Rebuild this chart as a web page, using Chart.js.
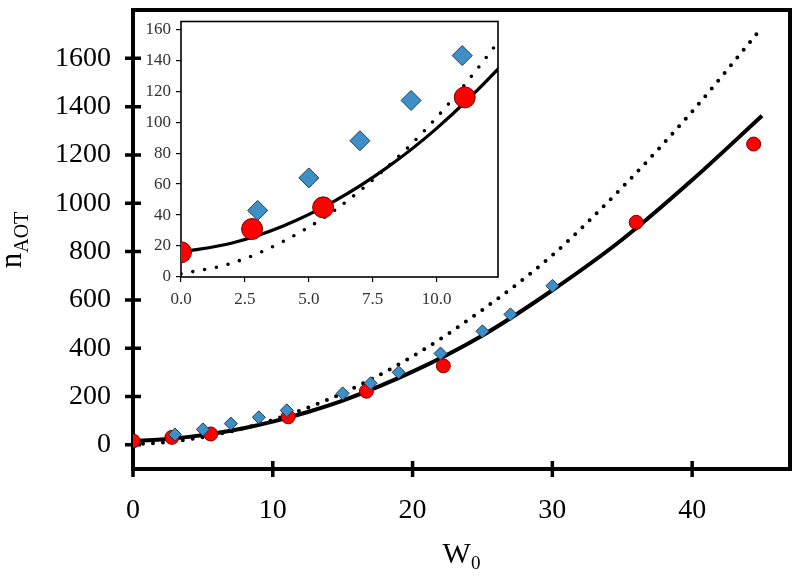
<!DOCTYPE html>
<html>
<head>
<meta charset="utf-8">
<script src="https://cdn.jsdelivr.net/npm/chart.js@4.4.1/dist/chart.umd.min.js"></script>
<style>
  body { margin: 0; background: #fff; }
  #wrap { position: relative; width: 800px; height: 583px; }
  #mainChart { position: absolute; left: 0; top: 0; }
  #insetChart { position: absolute; left: 130px; top: 10px; }
</style>
</head>
<body>
<div id="wrap">
  <canvas id="mainChart" width="800" height="583" style="width:800px;height:583px"></canvas>
  <canvas id="insetChart" width="380" height="305" style="width:380px;height:305px"></canvas>
</div>
<script>
// data
const redX = [0, 2.78, 5.56, 11.1, 16.7, 22.2, 36, 44.4];
const redY = [16, 31, 45, 116, 222, 327, 921, 1245];
const blueX = [3, 5, 7, 9, 11, 15, 17, 19, 22, 25, 27, 30];
const blueY = [43, 64, 88, 114, 143, 213, 255, 300, 378, 470, 540, 658];
const solidX = [0, 2, 4, 6, 8, 10, 12.5, 15, 20, 25, 30, 35, 40, 45];
const solidY = [16, 22, 33, 49, 70, 96, 136, 183, 303, 453, 640, 850, 1096, 1362];
const dotX = [0, 2, 4, 6, 8, 10, 12.5, 15, 20, 25, 30, 35, 40, 44.6];
const dotY = [2, 9, 23, 43, 70, 103, 154, 214, 366, 559, 785, 1066, 1380, 1700];

const mainXTicks = [0, 10, 20, 30, 40];
const mainYTicks = [0, 200, 400, 600, 800, 1000, 1200, 1400, 1600];
const insetXTicks = [0, 2.5, 5, 7.5, 10];
const insetYTicks = [0, 20, 40, 60, 80, 100, 120, 140, 160];

const SERIF = '"Liberation Serif", "Times New Roman", serif';

function pts(xs, ys, maxX) {
    const out = [];
    xs.forEach((x, i) => {
        if (maxX === undefined || x <= maxX) out.push({ x: x, y: ys[i] });
    });
    return out;
}

function makeDatasets(big) {
    return [
        {
            label: "blue",
            data: pts(blueX, blueY, big ? undefined : 12.4),
            showLine: false,
            pointStyle: "rectRot",
            pointRadius: big ? 6.5 : 10,
            backgroundColor: "#3d8fc6",
            borderColor: "#1d3c58",
            borderWidth: 1
        },
        {
            label: "red",
            data: pts(redX, redY, big ? undefined : 12.4),
            showLine: false,
            pointStyle: "circle",
            pointRadius: big ? 7 : 10.5,
            backgroundColor: "#ff0000",
            borderColor: "#7a0000",
            borderWidth: 1
        },
        {
            label: "fit",
            data: pts(solidX, solidY),
            showLine: true,
            pointRadius: 0,
            borderColor: "#000",
            borderWidth: big ? 4 : 3.2,
            cubicInterpolationMode: "monotone",
            fill: false
        },
        {
            label: "model",
            data: pts(dotX, dotY),
            showLine: true,
            pointRadius: 0,
            borderColor: "#000",
            borderWidth: big ? 4 : 3.6,
            borderDash: big ? [0, 10] : [0, 12],
            borderCapStyle: "round",
            cubicInterpolationMode: "monotone",
            fill: false
        }
    ];
}

// fixed axis sizes, no extra room for end labels
function fixSize(w, h) {
    return s => {
        if (w !== undefined) s.width = w
        if (h !== undefined) s.height = h
        s.paddingTop = 0
        s.paddingBottom = 0
        s.paddingLeft = 0
        s.paddingRight = 0
    }
}

// box round the plot area and cross tick marks
const frame = {
    id: 'frame',
    beforeDatasetsDraw(chart, args, opts) {
        const { ctx, chartArea: { left, right, top, bottom }, scales: { x, y } } = chart
        ctx.save()
        ctx.strokeStyle = '#000'
        ctx.lineWidth = opts.width
        ctx.strokeRect(left, top, right - left, bottom - top)
        if (opts.cross) {
            ctx.lineWidth = opts.tickWidth
            ctx.beginPath()
            x.ticks.forEach(t => {
                const px = x.getPixelForValue(t.value)
                ctx.moveTo(px, bottom - opts.cross)
                ctx.lineTo(px, bottom + opts.cross)
            })
            y.ticks.forEach(t => {
                const py = y.getPixelForValue(t.value)
                ctx.moveTo(left - opts.cross, py)
                ctx.lineTo(left + opts.cross, py)
            })
            ctx.stroke()
        }
        ctx.restore()
    }
}

// axis titles with subscripts
const axisTitles = {
    id: 'axisTitles',
    afterDraw(chart) {
        const { ctx, chartArea: { left, right } } = chart
        ctx.save()
        ctx.fillStyle = '#000'
        ctx.textBaseline = 'alphabetic'
        ctx.textAlign = 'left'
        // W0
        ctx.font = '30px ' + SERIF
        let w1 = ctx.measureText('W').width
        ctx.font = '19px ' + SERIF
        let w2 = ctx.measureText('0').width
        let sx = (left + right) / 2 - (w1 + w2) / 2
        ctx.font = '30px ' + SERIF
        ctx.fillText('W', sx, 563)
        ctx.font = '19px ' + SERIF
        ctx.fillText('0', sx + w1, 569)
        // nAOT
        ctx.translate(21, 240)
        ctx.rotate(-Math.PI / 2)
        ctx.font = '31px ' + SERIF
        w1 = ctx.measureText('n').width
        ctx.font = '20px ' + SERIF
        w2 = ctx.measureText('AOT').width
        sx = -(w1 + w2) / 2
        ctx.font = '31px ' + SERIF
        ctx.fillText('n', sx, 0)
        ctx.font = '20px ' + SERIF
        ctx.fillText('AOT', sx + w1, 7)
        ctx.restore()
    }
}

const mainChart = new Chart(document.getElementById("mainChart"), {
    type: "scatter",
    data: { datasets: makeDatasets(true) },
    options: {
        responsive: false,
        animation: false,
        layout: { padding: { top: 10, right: 10, left: 0, bottom: 0 } },
        plugins: {
            legend: { display: false },
            tooltip: { enabled: false },
            frame: { width: 4, cross: 8, tickWidth: 3.5 }
        },
        scales: {
            x: {
                type: "linear",
                min: 0,
                max: 47,
                afterBuildTicks: s => { s.ticks = mainXTicks.map(v => ({ value: v })) },
                afterFit: fixSize(undefined, 114),
                grid: { display: false },
                border: { display: false },
                ticks: { color: "#000", font: { family: SERIF, size: 28 }, padding: 17, maxRotation: 0, autoSkip: false,
                         callback: v => String(v) }
            },
            y: {
                type: "linear",
                min: -100,
                max: 1800,
                afterBuildTicks: s => { s.ticks = mainYTicks.map(v => ({ value: v })) },
                afterFit: fixSize(133, undefined),
                grid: { display: false },
                border: { display: false },
                ticks: { color: "#000", font: { family: SERIF, size: 28 }, padding: 14, autoSkip: false,
                         callback: v => String(v) }
            }
        }
    },
    plugins: [frame, axisTitles]
});

const insetChart = new Chart(document.getElementById("insetChart"), {
    type: "scatter",
    data: { datasets: makeDatasets(false) },
    options: {
        responsive: false,
        animation: false,
        layout: { padding: { top: 10, right: 12, left: 0, bottom: 0 } },
        plugins: {
            legend: { display: false },
            tooltip: { enabled: false },
            frame: { width: 1.6, cross: 0 }
        },
        scales: {
            x: {
                type: "linear",
                min: 0,
                max: 12.4,
                afterBuildTicks: s => { s.ticks = insetXTicks.map(v => ({ value: v })) },
                afterFit: fixSize(undefined, 38),
                grid: { display: true, drawOnChartArea: false, tickLength: 5, color: "#000", lineWidth: 1.2 },
                border: { display: false },
                ticks: { color: "#333", font: { family: SERIF, size: 17 }, padding: 7, maxRotation: 0, autoSkip: false,
                         callback: v => v.toFixed(1) }
            },
            y: {
                type: "linear",
                min: 0,
                max: 165,
                afterBuildTicks: s => { s.ticks = insetYTicks.map(v => ({ value: v })) },
                afterFit: fixSize(51, undefined),
                grid: { display: true, drawOnChartArea: false, tickLength: 5, color: "#000", lineWidth: 1.2 },
                border: { display: false },
                ticks: { color: "#333", font: { family: SERIF, size: 17 }, padding: 5, autoSkip: false,
                         callback: v => String(v) }
            }
        }
    },
    plugins: [frame]
});
</script>
</body>
</html>
